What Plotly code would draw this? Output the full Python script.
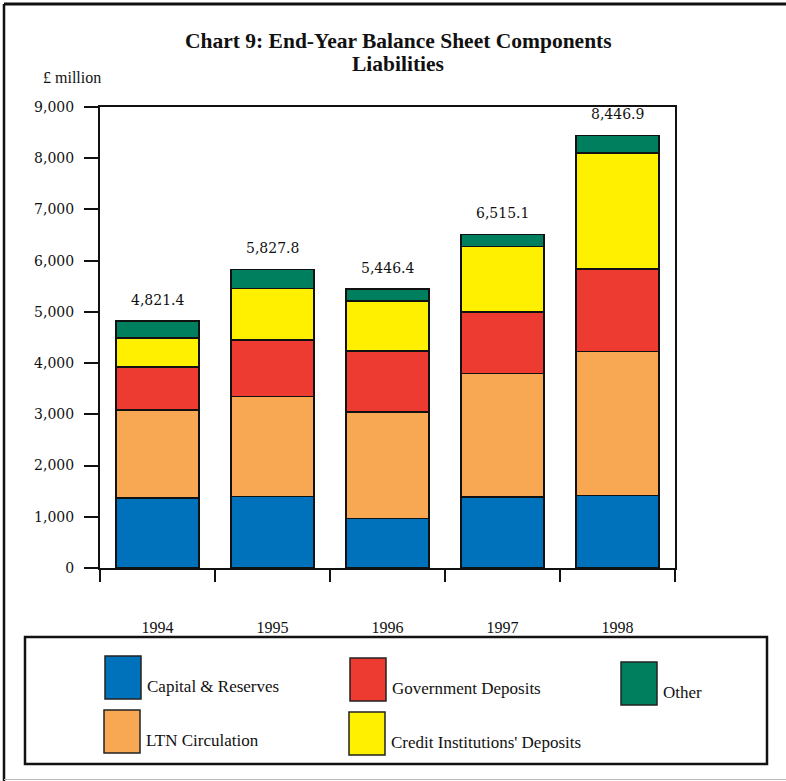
import plotly.graph_objects as go

# End-year liabilities of the balance sheet, £ million
years = ["1994", "1995", "1996", "1997", "1998"]
capital_reserves = [1368.0, 1391.9, 962.0, 1389.0, 1412.0]
ltn_circulation = [1717.1, 1960.5, 2087.0, 2412.0, 2814.0]
government_deposits = [834.8, 1095.5, 1183.0, 1194.0, 1608.0]
credit_inst_deposits = [572.7, 1010.2, 976.0, 1277.0, 2267.0]
other = [328.8, 369.7, 238.4, 243.1, 345.9]

series_names = ["Capital & Reserves", "LTN Circulation", "Government Deposits",
                "Credit Institutions' Deposits", "Other"]
series_values = [capital_reserves, ltn_circulation, government_deposits,
                 credit_inst_deposits, other]
series_colors = ["#0072BC", "#F8A852", "#ED3B32", "#FFF000", "#007F5F"]

W, H = 786, 781
ML, MR, MT, MB = 100, 111, 107, 213
PW, PH = W - ML - MR, H - MT - MB


def px(x):
    return (x - ML) / PW


def py(y):
    return (H - MB - y) / PH


SERIF = "Liberation Serif, Times New Roman, serif"
NUMS = "DejaVu Serif, serif"

fig = go.Figure()
for name, vals, col in zip(series_names, series_values, series_colors):
    fig.add_trace(go.Bar(
        x=years, y=vals, name=name, width=0.72,
        marker=dict(color=col, line=dict(color="#111111", width=1.5)),
        showlegend=False,
    ))

# totals above each stack (x given as category index)
totals = [sum(v) for v in zip(*series_values)]
for i, tot in enumerate(totals):
    fig.add_annotation(x=i, y=tot, xref="x", yref="y", text=f"{tot:,.1f}",
                       showarrow=False, yshift=21, yanchor="middle",
                       font=dict(family=NUMS, size=14, color="#111111"))

shapes = []
annos = []

# frame around the whole graphic
shapes.append(dict(type="line", xref="paper", yref="paper",
                   x0=px(4), x1=px(W), y0=py(4), y1=py(4),
                   line=dict(color="#111111", width=3)))
shapes.append(dict(type="line", xref="paper", yref="paper",
                   x0=px(4), x1=px(4), y0=py(4), y1=py(H),
                   line=dict(color="#111111", width=2.5)))
shapes.append(dict(type="line", xref="paper", yref="paper",
                   x0=px(4), x1=px(W), y0=py(779.5), y1=py(779.5),
                   line=dict(color="#bbbbbb", width=1)))

# legend box
shapes.append(dict(type="rect", xref="paper", yref="paper",
                   x0=px(25), x1=px(767), y0=py(637), y1=py(764),
                   line=dict(color="#111111", width=2.5), fillcolor="white"))

# legend entries: (left, top) of each swatch
swatch_pos = [(105, 656), (104, 710), (350, 658), (349, 712), (621, 662)]
sw_w, sw_h = 36, 43
for (lx, ly), name, col in zip(swatch_pos, series_names, series_colors):
    shapes.append(dict(type="rect", xref="paper", yref="paper",
                       x0=px(lx), x1=px(lx + sw_w), y0=py(ly), y1=py(ly + sw_h),
                       line=dict(color="#222222", width=1.5), fillcolor=col))
    annos.append(dict(xref="paper", yref="paper", x=px(lx + sw_w + 4),
                      y=py(ly + 30), text=name, showarrow=False,
                      xanchor="left", yanchor="middle",
                      font=dict(family=SERIF, size=17, color="#111111")))

# title and unit label
annos.append(dict(xref="paper", yref="paper", x=px(398), y=py(41),
                  text="<b>Chart 9: End-Year Balance Sheet Components</b>",
                  showarrow=False, xanchor="center", yanchor="middle",
                  font=dict(family=SERIF, size=21.5, color="#111111")))
annos.append(dict(xref="paper", yref="paper", x=px(398), y=py(64),
                  text="<b>Liabilities</b>",
                  showarrow=False, xanchor="center", yanchor="middle",
                  font=dict(family=SERIF, size=21.5, color="#111111")))
annos.append(dict(xref="paper", yref="paper", x=px(41), y=py(77),
                  text="£ million", showarrow=False,
                  xanchor="left", yanchor="middle",
                  font=dict(family=SERIF, size=16, color="#111111")))

for a in annos:
    fig.add_annotation(**a)

fig.update_layout(
    width=W, height=H,
    margin=dict(l=ML, r=MR, t=MT, b=MB, pad=0),
    barmode="stack",
    plot_bgcolor="white", paper_bgcolor="white",
    shapes=shapes,
    showlegend=False,
)

fig.update_xaxes(
    type="category", categoryorder="array", categoryarray=years,
    range=[-0.5, len(years) - 0.5], tickson="boundaries",
    ticks="outside", ticklen=12, tickwidth=2, tickcolor="#111111",
    showline=True, linewidth=2, linecolor="#111111", mirror=True,
    showgrid=False, ticklabelstandoff=44, tickangle=0,
    tickfont=dict(family=SERIF, size=16, color="#111111"),
)
fig.update_yaxes(
    range=[0, 9000], dtick=1000, tickformat=",",
    ticks="outside", ticklen=14, tickwidth=2, tickcolor="#111111",
    showline=True, linewidth=2, linecolor="#111111", mirror=True,
    showgrid=False, zeroline=False, ticklabelstandoff=7,
    tickfont=dict(family=NUMS, size=14, color="#111111"),
)

fig.write_html("out.html")
